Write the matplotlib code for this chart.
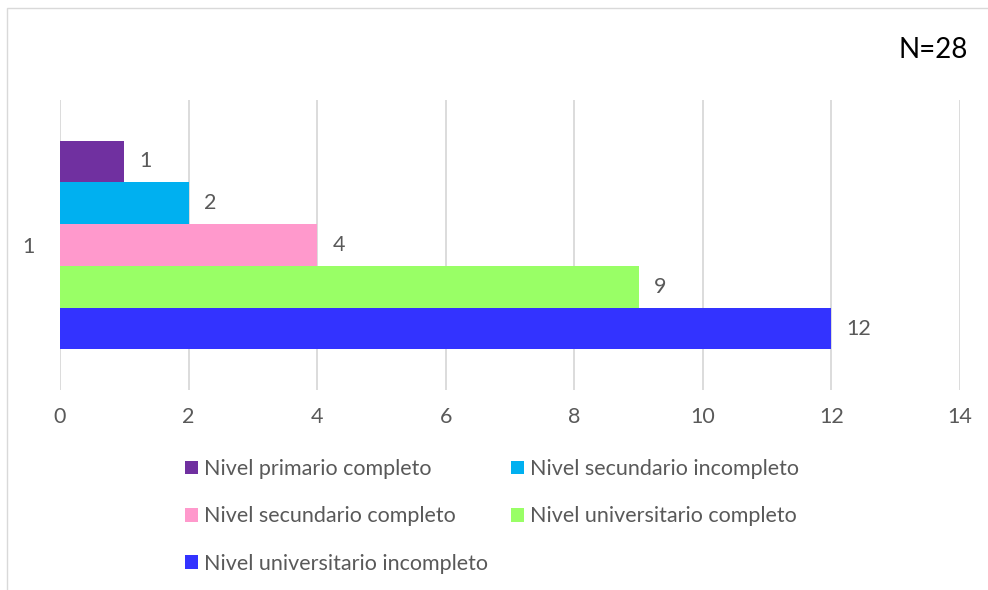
import matplotlib.pyplot as plt
from matplotlib.patches import Rectangle

categories = ["Nivel primario completo", "Nivel secundario incompleto",
              "Nivel secundario completo", "Nivel universitario completo",
              "Nivel universitario incompleto"]
values = [1, 2, 4, 9, 12]
colors = ["#7030a0", "#00b0f0", "#ff99cc", "#99ff66", "#3333ff"]
x_ticks = [0, 2, 4, 6, 8, 10, 12, 14]

GRAY = "#595959"
FS = 15.5
plt.rcParams['font.family'] = ['Lato', 'DejaVu Sans']

fig = plt.figure(figsize=(9.88, 5.9), dpi=100)
ax = fig.add_axes([60 / 988, 1 - 390 / 590, 900 / 988, 290 / 590])

bar_h = 0.144
n = len(values)
handles = []
for i, (cat, val, col) in enumerate(zip(categories, values, colors)):
    y = 1 + (n - 1) / 2 * bar_h - i * bar_h
    h = ax.barh(y, val, height=bar_h, color=col, label=cat, zorder=3)
    handles.append(h)
    ax.annotate(str(val), (val, y), xytext=(11, 0), textcoords='offset points',
                ha='left', va='center', fontsize=FS, color=GRAY)

ax.set_xlim(0, 14)
ax.set_ylim(0.5, 1.5)
ax.set_xticks(x_ticks)
ax.set_yticks([1])
ax.set_yticklabels(["1"])
ax.tick_params(axis='both', length=0, labelsize=FS, colors=GRAY)
ax.tick_params(axis='x', pad=12)
ax.tick_params(axis='y', pad=18)
ax.grid(axis='x', color='#d9d9d9', linewidth=1.3, zorder=0)
for s in ax.spines.values():
    s.set_visible(False)

# legend is filled row by row in the reference
order = [0, 2, 4, 1, 3]
fig.legend([handles[i] for i in order], [categories[i] for i in order],
           loc='upper left', bbox_to_anchor=(185 / 988, 1 - 459 / 590), ncol=2,
           frameon=False, fontsize=FS, labelcolor=GRAY, handlelength=0.6,
           handleheight=0.6, handletextpad=0.3, columnspacing=1.05,
           labelspacing=1.27, borderaxespad=0, borderpad=0)

fig.text(968 / 988, 1 - 50 / 590, "N=28", ha='right', va='center',
         fontsize=20, color='black')

fig.patches.append(Rectangle((7 / 988, -0.1), 1.2, 1.1 - 8 / 590,
                             transform=fig.transFigure, fill=False,
                             edgecolor='#d9d9d9', linewidth=1.0))

fig.savefig("out.png", dpi=100)
